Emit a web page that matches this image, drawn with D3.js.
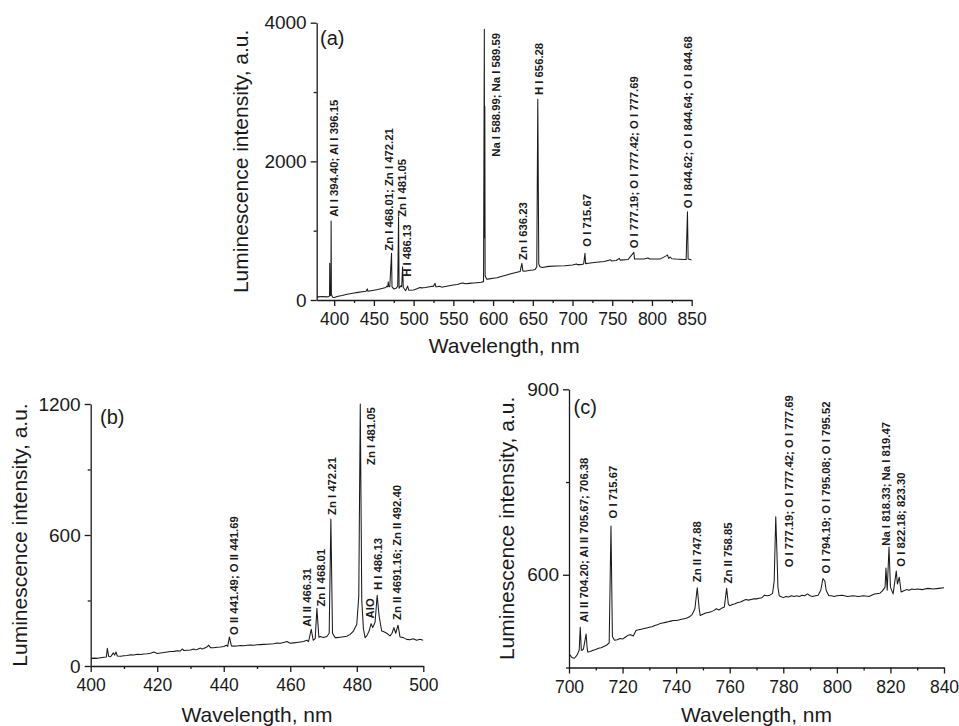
<!DOCTYPE html>
<html><head><meta charset="utf-8">
<script src="https://cdn.jsdelivr.net/npm/d3@7"></script>
<style>
body{margin:0;background:#fff;}
text{font-family:"Liberation Sans",Arial,sans-serif;fill:#1a1a1a;}
</style>
</head><body>
<svg id="chart" width="959" height="726"></svg>
<script>
// ---------- DATA ----------
// Panel (a): full spectrum, [wavelength nm, intensity a.u.]
const specA = [[378,40],[380,45],[385,50],[390,45],[393,48],[394.2,60],[394.4,529],[394.7,60],[395.9,70],[396.15,1140],[396.5,80],[398,40],[400,35],[405,55],[410,65],[415,80],[420,90],[425,100],[430,110],[435,120],[440,125],[441.7,160],[442.5,125],[450,140],[455,150],[460,165],[465,180],[466.3,200],[467.5,190],[468,264],[468.6,200],[470,190],[472.2,673],[472.8,190],[475,160],[478,170],[480,200],[481.05,1200],[481.7,170],[484.3,210],[485,190],[486.13,480],[487,180],[490,134],[492.4,200],[494,140],[500,144],[505,165],[508,180],[510,175],[515,180],[520,190],[525,200],[527,240],[528,190],[530,190],[533,200],[535,185],[540,195],[550,216],[555,225],[560,240],[562,245],[565,235],[570,240],[575,245],[580,250],[585,255],[588,265],[588.99,3904],[589.3,900],[589.59,2790],[590,350],[592,300],[595,305],[600,313],[605,320],[610,340],[615,355],[620,370],[625,385],[630,400],[634,410],[636.23,529],[637.5,420],[640,415],[645,425],[650,433],[653,440],[655,480],[656.28,2895],[657.5,520],[659,480],[662,470],[670,485],[680,490],[690,495],[700,505],[705,520],[706,510],[710,510],[714,520],[715.67,673],[716.5,525],[720,530],[730,545],[740,555],[747.9,580],[749,562],[755,570],[758.9,600],[760,575],[770,585],[777.2,688],[778,590],[785,590],[790,592],[795,605],[797,592],[800,590],[810,590],[818.5,640],[819.5,650],[821,600],[823,620],[825,595],[830,590],[840,585],[843,585],[844.68,1274],[845.5,590],[850,577]];

// Panel (b): 400-500 nm
const specB = [[400,34],[401,36],[402,35],[403,38],[404,40],[404.7,41],[405,81],[405.4,44],[406,42],[406.8,60],[407.2,50],[407.6,64],[408,46],[409,45],[410,47],[411,48],[412,52],[413,50],[414,54],[415,53],[416,55],[417,56],[418,58],[419,64],[420,57],[421,60],[422,62],[423,64],[424,66],[425,67],[426,70],[427,69],[427.5,78],[428,71],[429,72],[430,73],[431,78],[431.5,74],[432,76],[433,82],[433.5,78],[434,80],[435,88],[435.5,95],[436,84],[437,84],[438,86],[439,87],[440,89],[440.8,95],[441.2,90],[441.7,133],[442.3,92],[443,91],[444,92],[445,94],[446,93],[447,95],[448,96],[449,95],[450,97],[451,98],[452,99],[453,100],[454,101],[455,102],[456,105],[457,104],[458,108],[459,112],[460,104],[461,106],[462,108],[463,110],[464,112],[465,118],[465.5,112],[466.31,168],[466.9,118],[467.5,125],[468.01,264],[468.6,132],[469,135],[470,130],[471,135],[471.7,150],[472.21,673],[472.7,150],[473.5,130],[474,130],[475,132],[476,134],[477,136],[478,145],[479,160],[480,191],[480.6,320],[481.05,1200],[481.5,300],[482,170],[482.5,130],[483,138],[483.7,160],[484.3,194],[484.8,176],[485.5,200],[486.13,324],[486.7,230],[487.5,160],[488,158],[489,150],[490,138],[490.6,150],[491.16,176],[491.7,150],[492.4,187],[493,133],[494,130],[495,122],[496,120],[497,125],[498,118],[499,122],[500,118]];

// Panel (c): 700-840 nm
const specC = [[700,469],[700.5,470],[701,466],[702,465],[703,470],[703.8,478],[704.2,515],[704.6,478],[705,478],[705.4,480],[706.38,504],[706.8,480],[707,475],[708,476],[709,478],[710,479],[711,481],[712,482],[713,484],[714,486],[715,490],[715.67,679],[716.2,500],[717,494],[718,495],[719,497],[720,496],[721,499],[722,502],[723,503],[724,501],[725,510],[726,511],[727,512],[728,513],[729,514],[730,515],[731,516],[732,518],[733,519],[734,521],[735,522],[736,523],[737,524],[738,525],[739,526],[740,526],[741,527],[742,528],[743,529],[744,530],[745,532],[746,536],[747,545],[747.88,579],[748.6,545],[749,534],[750,536],[751,538],[752,539],[753,540],[754,542],[755,545],[756,543],[757,546],[758,548],[758.85,578],[759.5,552],[760,550],[761,552],[762,553],[763,555],[764,556],[765,558],[766,560],[767,559],[768,560],[769,561],[770,561],[771,562],[772,563],[773,567],[774,566],[775,567],[776,570],[776.6,590],[777.19,694],[777.6,640],[778,580],[778.5,566],[779,565],[780,563],[781,565],[782,564],[783,566],[784,565],[785,566],[786,565],[787,567],[788,566],[789,569],[790,566],[791,565],[792,566],[793,567],[794,575],[794.8,594],[795.5,590],[796,575],[797,566],[798,566],[799,565],[800,566],[802,567],[804,565],[806,566],[808,565],[810,566],[812,565],[814,569],[816,570],[817,574],[818,580],[818.33,611],[818.8,575],[819.47,645],[820,580],[821,569],[822.18,606],[822.6,585],[823.3,596],[824,572],[825,574],[826,576],[827,575],[828,577],[829,576],[830,577],[832,576],[834,578],[836,577],[838,578],[840,579]];

// Line labels: text, wavelength of label, intensity at label base
const labelsA = [
  {t:"Al I 394.40; Al I 396.15", x:400.2, y:1200},
  {t:"Zn I 468.01; Zn I 472.21", x:469.0, y:711},
  {t:"Zn I 481.05", x:485.0, y:1200},
  {t:"H I 486.13", x:491.7, y:336},
  {t:"Na I 588.99; Na I 589.59", x:603.7, y:2067},
  {t:"Zn I 636.23", x:637.3, y:577},
  {t:"H I 656.28", x:657.8, y:2957},
  {t:"O I 715.67", x:718.6, y:769},
  {t:"O I 777.19; O I 777.42; O I 777.69", x:777.7, y:745},
  {t:"O I 844.62; O I 844.64; O I 844.68", x:845.7, y:1322}
];
const labelsB = [
  {t:"O II 441.49; O II 441.69", x:443.1, y:142},
  {t:"Al II 466.31", x:465.1, y:180},
  {t:"Zn I 468.01", x:469.2, y:272},
  {t:"Zn I 472.21", x:472.6, y:692},
  {t:"Zn I 481.05", x:484.2, y:921},
  {t:"AlO", x:484.0, y:218},
  {t:"H I 486.13", x:486.5, y:348},
  {t:"Zn II 4691.16; Zn II 492.40", x:492.2, y:211}
];
const labelsC = [
  {t:"Al II 704.20; Al II 705.67; 706.38", x:705.6, y:523},
  {t:"O I 715.67", x:716.5, y:691},
  {t:"Zn II 747.88", x:747.9, y:588},
  {t:"Zn II 758.85", x:759.2, y:586},
  {t:"O I 777.19; O I 777.42; O I 777.69", x:782.1, y:612},
  {t:"O I 794.19; O I 795.08; O I 795.52", x:795.8, y:602},
  {t:"Na I 818.33; Na I 819.47", x:818.2, y:647},
  {t:"O I 822.18; 823.30", x:824.1, y:613}
];

// Tick values
const xMajorA = [400,450,500,550,600,650,700,750,800,850];
const xMinorA = [425,475,525,575,625,675,725,775,825];
const yMajorA = [0,2000,4000];
const yMinorA = [1000,3000];
const xMajorB = [400,420,440,460,480,500];
const xMinorB = [410,430,450,470,490];
const yMajorB = [0,600,1200];
const yMinorB = [300,900];
const xMajorC = [700,720,740,760,780,800,820,840];
const xMinorC = [710,730,750,770,790,810,830];
const yMajorC = [600,900];
const yMinorC = [450,750];

const xTitle = "Wavelength, nm";
const yTitle = "Luminescence intensity, a.u.";

// ---------- DRAW ----------
const svg = d3.select("#chart");

function panel(cfg){
  const x = d3.scaleLinear().domain(cfg.xDomain).range([cfg.left, cfg.right]);
  const y = d3.scaleLinear().domain(cfg.yDomain).range([cfg.bottom, cfg.top]);
  const g = svg.append("g");

  g.append("clipPath").attr("id","clip"+cfg.id).append("rect")
    .attr("x",cfg.left).attr("y",cfg.top-2).attr("width",cfg.right-cfg.left).attr("height",cfg.bottom-cfg.top+2);

  g.append("path").datum(cfg.data)
    .attr("clip-path","url(#clip"+cfg.id+")")
    .attr("fill","none").attr("stroke","#1a1a1a").attr("stroke-width",1.05)
    .attr("stroke-linejoin","round")
    .attr("d", d3.line().x(d=>x(d[0])).y(d=>y(d[1])));

  const fmt = d3.format("d");
  const styleAxis = (size) => sel => {
    sel.selectAll("path,line").attr("stroke","#1a1a1a").attr("stroke-width",1.3);
    sel.selectAll("text").attr("font-size",size).attr("fill","#1a1a1a")
       .attr("font-family","'Liberation Sans',Arial,sans-serif");
  };
  // x axis
  g.append("g").attr("transform",`translate(0,${cfg.bottom})`)
    .call(d3.axisBottom(x).tickValues(cfg.xMajor).tickFormat(fmt).tickSize(6).tickSizeOuter(0).tickPadding(7))
    .call(styleAxis("17.5px"));
  g.append("g").attr("transform",`translate(0,${cfg.bottom})`)
    .call(d3.axisBottom(x).tickValues(cfg.xMinor).tickFormat("").tickSize(3).tickSizeOuter(0))
    .call(s=>s.select(".domain").remove()).call(styleAxis("17.5px"));
  // y axis
  g.append("g").attr("transform",`translate(${cfg.left},0)`)
    .call(d3.axisLeft(y).tickValues(cfg.yMajor).tickFormat(fmt).tickSize(6).tickSizeOuter(0).tickPadding(4))
    .call(styleAxis("19px"));
  g.append("g").attr("transform",`translate(${cfg.left},0)`)
    .call(d3.axisLeft(y).tickValues(cfg.yMinor).tickFormat("").tickSize(3).tickSizeOuter(0))
    .call(s=>s.select(".domain").remove()).call(styleAxis("19px"));

  // titles
  g.append("text").attr("x",(cfg.left+cfg.right)/2).attr("y",cfg.xTitleY)
    .attr("text-anchor","middle").attr("font-size","21px").text(xTitle);
  g.append("text").attr("transform",`translate(${cfg.yTitleX},${(cfg.top+cfg.bottom)/2}) rotate(-90)`)
    .attr("text-anchor","middle").attr("dy","0.35em").attr("font-size","21px").text(yTitle);

  // panel letter
  g.append("text").attr("x",cfg.letterX).attr("y",cfg.letterY).attr("font-size","20px").text(cfg.letter);

  // line labels
  g.selectAll("text.lab").data(cfg.labels).join("text").attr("class","lab")
    .attr("transform",d=>`translate(${x(d.x)},${y(d.y)}) rotate(-90)`)
    .attr("dy","0.35em").attr("text-anchor","start")
    .attr("font-size","11.3px").attr("font-weight","bold").text(d=>d.t);
}

panel({id:"a", data:specA, labels:labelsA, xDomain:[378,850], yDomain:[0,4000],
  left:316.7, right:691.7, top:22.7, bottom:300,
  xMajor:xMajorA, xMinor:xMinorA, yMajor:yMajorA, yMinor:yMinorA,
  xTitleY:353, yTitleX:241, letter:"(a)", letterX:320, letterY:45});

panel({id:"b", data:specB, labels:labelsB, xDomain:[400,500], yDomain:[0,1200],
  left:90.7, right:423.3, top:404, bottom:666,
  xMajor:xMajorB, xMinor:xMinorB, yMajor:yMajorB, yMinor:yMinorB,
  xTitleY:721.5, yTitleX:20, letter:"(b)", letterX:100, letterY:424});

panel({id:"c", data:specC, labels:labelsC, xDomain:[700,840], yDomain:[450,900],
  left:569, right:944, top:389.3, bottom:667.5,
  xMajor:xMajorC, xMinor:xMinorC, yMajor:yMajorC, yMinor:yMinorC,
  xTitleY:721.5, yTitleX:506.5, letter:"(c)", letterX:573.5, letterY:414});
</script>
</body></html>
